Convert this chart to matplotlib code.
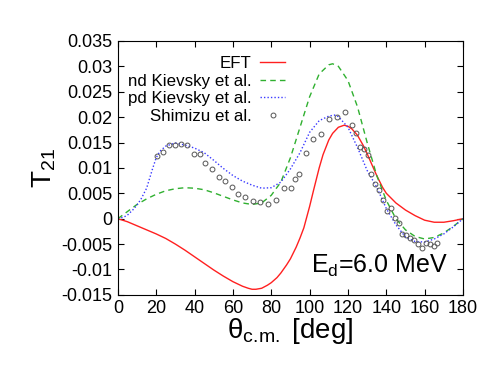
import matplotlib
matplotlib.use("Agg")
import matplotlib.pyplot as plt

plt.rcParams['font.family'] = ['Liberation Sans', 'DejaVu Sans']
plt.rcParams['mathtext.fontset'] = 'custom'
plt.rcParams['mathtext.rm'] = 'Liberation Sans'
plt.rcParams['mathtext.it'] = 'Liberation Sans:italic'

# EFT curve
eft_x = [0, 5, 10, 15, 20, 25, 30, 35, 40, 45, 50, 55, 60, 65, 68, 70, 72, 75, 78,
         80, 83, 85, 88, 90, 93, 95, 97, 100, 102, 105, 107, 110, 112, 115, 118,
         120, 122, 125, 128, 130, 133, 135, 138, 140, 145, 150, 155, 160, 165, 170,
         175, 180]
eft_y = [0, -0.0006, -0.0014, -0.0022, -0.0030, -0.0039, -0.0050, -0.0062, -0.0075,
         -0.0088, -0.0101, -0.0113, -0.0124, -0.0133, -0.0137, -0.0139, -0.0139,
         -0.0137, -0.0131, -0.0126, -0.0116, -0.0107, -0.0091, -0.0079, -0.0056,
         -0.0038, -0.0018, 0.0024, 0.0055, 0.0100, 0.0126, 0.0155, 0.0168, 0.0180,
         0.0184, 0.0182, 0.0177, 0.0164, 0.0144, 0.0128, 0.0102, 0.0085, 0.0062,
         0.0050, 0.0031, 0.0017, 0.0006, -0.0003, -0.0007, -0.0007, -0.0004, 0]

# nd Kievsky et al.
nd_x = [0, 5, 10, 15, 20, 25, 30, 35, 40, 45, 50, 55, 60, 65, 70, 75, 80, 85, 90, 95,
        100, 105, 110, 112, 115, 120, 125, 130, 135, 140, 145, 150, 155, 160, 165,
        170, 175, 180]
nd_y = [0, 0.0014, 0.0028, 0.0039, 0.0048, 0.0055, 0.0059, 0.0061, 0.0060, 0.0057,
        0.0051, 0.0044, 0.0037, 0.0031, 0.0028, 0.0031, 0.0046, 0.0072, 0.0120,
        0.0180, 0.0240, 0.0285, 0.0303, 0.0305, 0.0300, 0.0272, 0.0220, 0.0150,
        0.0085, 0.0036, 0.0000, -0.0022, -0.0035, -0.0040, -0.0037, -0.0028,
        -0.0015, 0]

# pd Kievsky et al.
pd_x = [0, 3, 5, 8, 10, 12, 15, 18, 20, 22, 25, 30, 35, 40, 45, 50, 55, 60, 65, 70,
        75, 80, 85, 90, 95, 100, 105, 110, 113, 115, 120, 125, 130, 135, 140, 145,
        150, 155, 160, 165, 170, 175, 180]
pd_y = [0, 0.0003, 0.0007, 0.0018, 0.0027, 0.0038, 0.0060, 0.0097, 0.0120, 0.0133,
        0.0143, 0.0149, 0.0145, 0.0139, 0.0130, 0.0115, 0.0099, 0.0085, 0.0074,
        0.0066, 0.0060, 0.0061, 0.0072, 0.0098, 0.0130, 0.0170, 0.0193, 0.0202,
        0.0204, 0.0201, 0.0180, 0.0140, 0.0095, 0.0062, 0.0020, -0.0012, -0.0036,
        -0.0045, -0.0046, -0.0040, -0.0030, -0.0016, 0]

# Shimizu et al. data
shim_x = [20.2, 23.6, 26.8, 29.9, 33.0, 36.2, 39.5, 42.6, 45.7, 49.2, 52.5, 55.8,
          59.3, 62.8, 66.4, 70.3, 74.1, 78.2, 82.4, 86.9, 90.1, 92.3, 94.3, 98.2,
          101.9, 106.1, 110.2, 114.1, 118.3, 122.2, 124.2, 126.2, 128.2, 130.3,
          132.1, 134.2, 136.3, 138.4, 140.5, 142.4, 144.3, 146.4, 148.3, 150.5,
          152.4, 154.5, 156.6, 158.5, 160.5, 162.7, 164.7, 166.6]
shim_y = [0.0124, 0.0131, 0.0145, 0.0146, 0.0147, 0.0146, 0.0127, 0.0127, 0.0110,
          0.0098, 0.0083, 0.0075, 0.0063, 0.0049, 0.0042, 0.0034, 0.0032, 0.0029,
          0.0036, 0.0061, 0.0061, 0.0079, 0.0088, 0.0129, 0.0157, 0.0167, 0.0196,
          0.0200, 0.0211, 0.0185, 0.0169, 0.0142, 0.0137, 0.0126, 0.0088, 0.0069,
          0.0057, 0.0037, 0.0016, 0.0021, 0.0001, -0.0008, -0.0031, -0.0033,
          -0.0038, -0.0042, -0.0050, -0.0058, -0.0048, -0.0049, -0.0053, -0.0047]

xticks = [0, 20, 40, 60, 80, 100, 120, 140, 160, 180]
yticks = [-0.015, -0.01, -0.005, 0, 0.005, 0.01, 0.015, 0.02, 0.025, 0.03, 0.035]
ytick_labels = ['-0.015', '-0.01', '-0.005', '0', '0.005', '0.01', '0.015', '0.02',
                '0.025', '0.03', '0.035']

fig = plt.figure(figsize=(4.91, 3.79), dpi=100)
ax = fig.add_axes([0.240, 0.222, 0.703, 0.670])

ax.plot(eft_x, eft_y, color='#ff2020', lw=1.0, label='EFT')
ax.plot(nd_x, nd_y, color='#30b030', lw=1.0, dashes=(4, 3), label='nd Kievsky et al.')
ax.plot(pd_x, pd_y, color='#3a3aff', lw=1.0, dashes=(1, 1.5), label='pd Kievsky et al.')
ax.plot(shim_x, shim_y, ls='none', marker='o', ms=3.5, mfc='none', mec='#555555',
        mew=0.7, label='Shimizu et al.')

ax.set_xlim(0, 180)
ax.set_ylim(-0.015, 0.035)
ax.set_xticks(xticks)
ax.set_yticks(yticks)
ax.set_yticklabels(ytick_labels)
ax.tick_params(direction='in', top=True, right=True, length=4, width=0.8,
               labelsize=13, pad=4)

ax.set_xlabel(r'θ$_{\mathrm{c.\!m.}}$ [deg]', fontsize=20, labelpad=-1)
ax.set_ylabel(r'T$_{21}$', fontsize=20, labelpad=2)

ax.text(0.955, 0.087, r'E$_{\mathrm{d}}$=6.0 MeV', transform=ax.transAxes,
        ha='right', va='baseline', fontsize=18)

ax.legend(loc='upper right', bbox_to_anchor=(0.485, 0.94), frameon=False,
          markerfirst=False, fontsize=12.2, handlelength=1.5, handletextpad=0.5,
          labelspacing=0.15, borderpad=0, borderaxespad=0)

fig.savefig('out.png', dpi=100)
